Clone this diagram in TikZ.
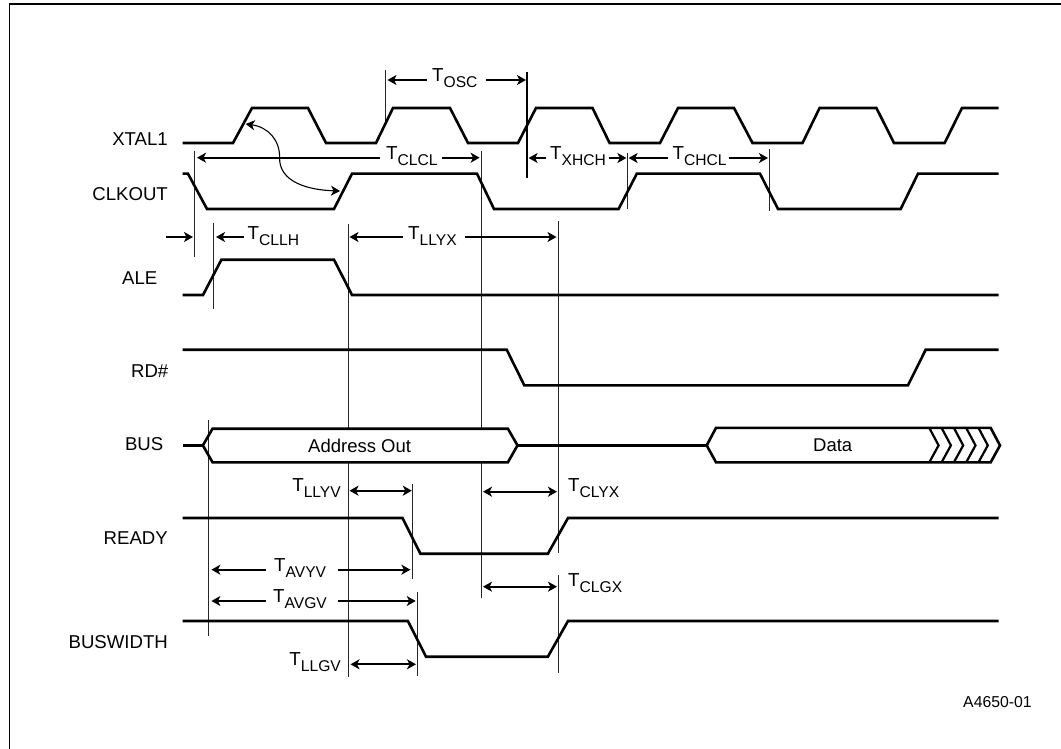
\documentclass[tikz,border=0pt]{standalone}
\usepackage{fontspec}
\setmainfont{Liberation Sans}
\usetikzlibrary{arrows.meta}
\newcommand{\tsym}[1]{{\fontsize{18.8}{20}\selectfont T\raisebox{-6pt}{\fontsize{15.6}{16}\selectfont #1}}}
\tikzset{
  wave/.style={line width=2.6pt,line join=miter,miter limit=10},
  guide/.style={line width=1.1pt,black!85},
  tipline/.style={line width=1.7pt},
  oneway/.style={tipline,-{Stealth[length=9pt,width=10pt,inset=2.5pt]}},
  twoway/.style={tipline,{Stealth[length=9pt,width=10pt,inset=2.5pt]}-{Stealth[length=9pt,width=10pt,inset=2.5pt]}},
  sig/.style={font=\fontsize{18.6}{20}\selectfont,inner sep=0pt,anchor=east},
  lab/.style={inner sep=0pt},
  buslab/.style={font=\fontsize{18.5}{20}\selectfont,inner sep=0pt}
}
\begin{document}
\begin{tikzpicture}[x=1pt,y=-1pt]
\useasboundingbox (0,0) rectangle (1061,749);
% frame
\draw[line width=1.8pt] (9.5,749) -- (9.5,4) -- (1061,4);

% signal names
\node[sig] (nXTAL) at (168,139) {XTAL1};
\node[sig] (nCLK) at (168,193.7) {CLKOUT};
\node[sig] (nALE) at (157.5,278) {ALE};
\node[sig] (nRD) at (168.5,370.7) {RD\#};
\node[sig] (nBUS) at (163.5,443.7) {BUS};
\node[sig] (nREADY) at (168,538) {READY};
\node[sig] (nBW) at (168,641.7) {BUSWIDTH};

% guide lines
\draw[guide] (194.5,150.7) -- (194.5,257);
\draw[guide] (213.5,222.7) -- (213.5,309.3);
\draw[guide] (348.5,224.3) -- (348.5,677.3);
\draw[guide] (481.5,150.7) -- (481.5,597.7);
\draw[guide] (385.5,70.3) -- (385.5,121.7);
\draw[guide,line width=1.6pt,black] (526.8,72) -- (526.8,177.7);
\draw[guide] (627.5,153) -- (627.5,209);
\draw[guide] (769.5,149) -- (769.5,210.7);
\draw[guide] (558.5,221.3) -- (558.5,553);
\draw[guide] (558.5,575) -- (558.5,673);
\draw[guide] (208.5,420) -- (208.5,635.7);
\draw[guide] (412.5,484.3) -- (412.5,578.7);
\draw[guide] (417.5,592.3) -- (417.5,675.7);

% waveforms
\draw[wave] (182.5,143) -- (233,143) -- (252,108) -- (308,108) -- (326,143) -- (376,143) -- (393,108) -- (450,108) -- (468,143) -- (518,143) -- (536,108) -- (592.5,108) -- (609.6,143) -- (660,143) -- (678,108) -- (734,108) -- (752.5,143) -- (802.5,143) -- (819.6,108) -- (876.4,108) -- (894,143) -- (944.6,143) -- (962,108) -- (998.6,108);
\draw[wave] (182.5,173.7) -- (188,173.7) -- (207,209) -- (334,209) -- (352,173.7) -- (477,173.7) -- (494,209) -- (618.6,209) -- (636.8,173.7) -- (760,173.7) -- (778,209) -- (900.7,209) -- (918,173.7) -- (998.6,173.7);
\draw[wave] (182.5,295) -- (203,295) -- (221.4,259.7) -- (334,259.7) -- (352,295) -- (998.6,295);
\draw[wave] (182.5,349.7) -- (506.7,349.7) -- (524.3,385.3) -- (908,385.3) -- (925.7,349.7) -- (998.6,349.7);
\draw[wave] (182.5,518) -- (402.5,518) -- (420.4,553.7) -- (547.9,553.7) -- (568,518) -- (998.6,518);
\draw[wave] (182.5,621) -- (407.9,621) -- (426,656.7) -- (547.9,656.7) -- (568,621) -- (998.6,621);

% bus
\fill[white] (214,429) rectangle (507,462);
\draw[wave] (182.5,445.4) -- (202.9,445.4);
\draw[wave] (202.9,445.4) -- (212.5,428.7) -- (507.9,428.7) -- (517.5,445.4) -- (507.9,462.3) -- (212.5,462.3) -- cycle;
\draw[wave] (517.5,445.4) -- (706.7,445.4);
\draw[wave] (706.7,445.4) -- (716,427.9) -- (990.7,427.9) -- (1000,445.4) -- (990.7,462.3) -- (716,462.3) -- cycle;
\foreach \xx in {929.3,941.6,953.9,966.2,978.5}{
  \draw[wave,line width=2.2pt] (\xx,427.9) -- (\xx+9.3,445.4) -- (\xx,462.3);
}
\node[buslab] (addr) at (359.6,445.6) {Address Out};
\node[buslab] (data) at (832.7,445.4) {Data};

% timing labels
\node[lab,anchor=west] (tosc) at (432,78.5) {\tsym{OSC}};
\node[lab,anchor=west] (tclcl) at (386,156.5) {\tsym{CLCL}};
\node[lab,anchor=west] (txhch) at (550,156.5) {\tsym{XHCH}};
\node[lab,anchor=west] (tchcl) at (672.5,156.5) {\tsym{CHCL}};
\node[lab,anchor=west] (tcllh) at (247.5,236) {\tsym{CLLH}};
\node[lab,anchor=west] (tllyx) at (408,236) {\tsym{LLYX}};
\node[lab,anchor=east] (tllyv) at (341,488.5) {\tsym{LLYV}};
\node[lab,anchor=west] (tclyx) at (568,488.5) {\tsym{CLYX}};
\node[lab,anchor=west] (tclgx) at (568,583) {\tsym{CLGX}};
\node[lab,anchor=west] (tavyv) at (274,568.5) {\tsym{AVYV}};
\node[lab,anchor=west] (tavgv) at (273,599.5) {\tsym{AVGV}};
\node[lab,anchor=east] (tllgv) at (341,662) {\tsym{LLGV}};
\node[inner sep=0pt,font=\fontsize{15.8}{18}\selectfont] (code) at (997.5,702) {A4650-01};

% arrow ends
\coordinate (a1) at (387.5,80); \coordinate (a2) at (427,80); \coordinate (a3) at (486,80); \coordinate (a4) at (526,80);
\coordinate (b1) at (197,157.7); \coordinate (b2) at (380,157.7); \coordinate (b3) at (442,157.7); \coordinate (b4) at (479.6,157.7);
\coordinate (c1) at (528.6,158); \coordinate (c2) at (546.4,158); \coordinate (c3) at (609,158); \coordinate (c4) at (626.4,158);
\coordinate (d1) at (628.6,158); \coordinate (d2) at (668,158); \coordinate (d3) at (728.6,158); \coordinate (d4) at (768,158);
\coordinate (e1) at (166,237); \coordinate (e2) at (193,237);
\coordinate (f1) at (216,237); \coordinate (f2) at (244,237);
\coordinate (g1) at (349.5,237); \coordinate (g2) at (402.5,237); \coordinate (g3) at (465,237); \coordinate (g4) at (556.5,237);
\coordinate (h1) at (349.5,490.7); \coordinate (h2) at (411.8,490.7);
\coordinate (i1) at (483,491.7); \coordinate (i2) at (557,491.7);
\coordinate (j1) at (483,586.7); \coordinate (j2) at (557,586.7);
\coordinate (k1) at (211.4,569.7); \coordinate (k2) at (265.7,569.7); \coordinate (k3) at (338,569.7); \coordinate (k4) at (410.4,569.7);
\coordinate (l1) at (211.4,601); \coordinate (l2) at (265.7,601); \coordinate (l3) at (338,601); \coordinate (l4) at (415.7,601);
\coordinate (m1) at (350.5,664.3); \coordinate (m2) at (416,664.3);

\draw[oneway] (a2) -- (a1); \draw[oneway] (a3) -- (a4);
\draw[oneway] (b2) -- (b1); \draw[oneway] (b3) -- (b4);
\draw[oneway] (c2) -- (c1); \draw[oneway] (c3) -- (c4);
\draw[oneway] (d2) -- (d1); \draw[oneway] (d3) -- (d4);
\draw[oneway] (e1) -- (e2);
\draw[oneway] (f2) -- (f1);
\draw[oneway] (g2) -- (g1); \draw[oneway] (g3) -- (g4);
\draw[twoway] (h1) -- (h2);
\draw[twoway] (i1) -- (i2);
\draw[twoway] (j1) -- (j2);
\draw[oneway] (k2) -- (k1); \draw[oneway] (k3) -- (k4);
\draw[oneway] (l2) -- (l1); \draw[oneway] (l3) -- (l4);
\draw[twoway] (m1) -- (m2);

% curved double arrow
\coordinate (s1) at (245.7,124); \coordinate (s2) at (279.6,157.7); \coordinate (s3) at (340,191);
\draw[line width=1.1pt,{Stealth[length=9pt,width=10pt,inset=2.5pt]}-{Stealth[length=9pt,width=10pt,inset=2.5pt]}] (s1) .. controls (268,127) and (280,140) .. (s2) .. controls (279,182) and (308,190) .. (s3);
\end{tikzpicture}
\end{document}
